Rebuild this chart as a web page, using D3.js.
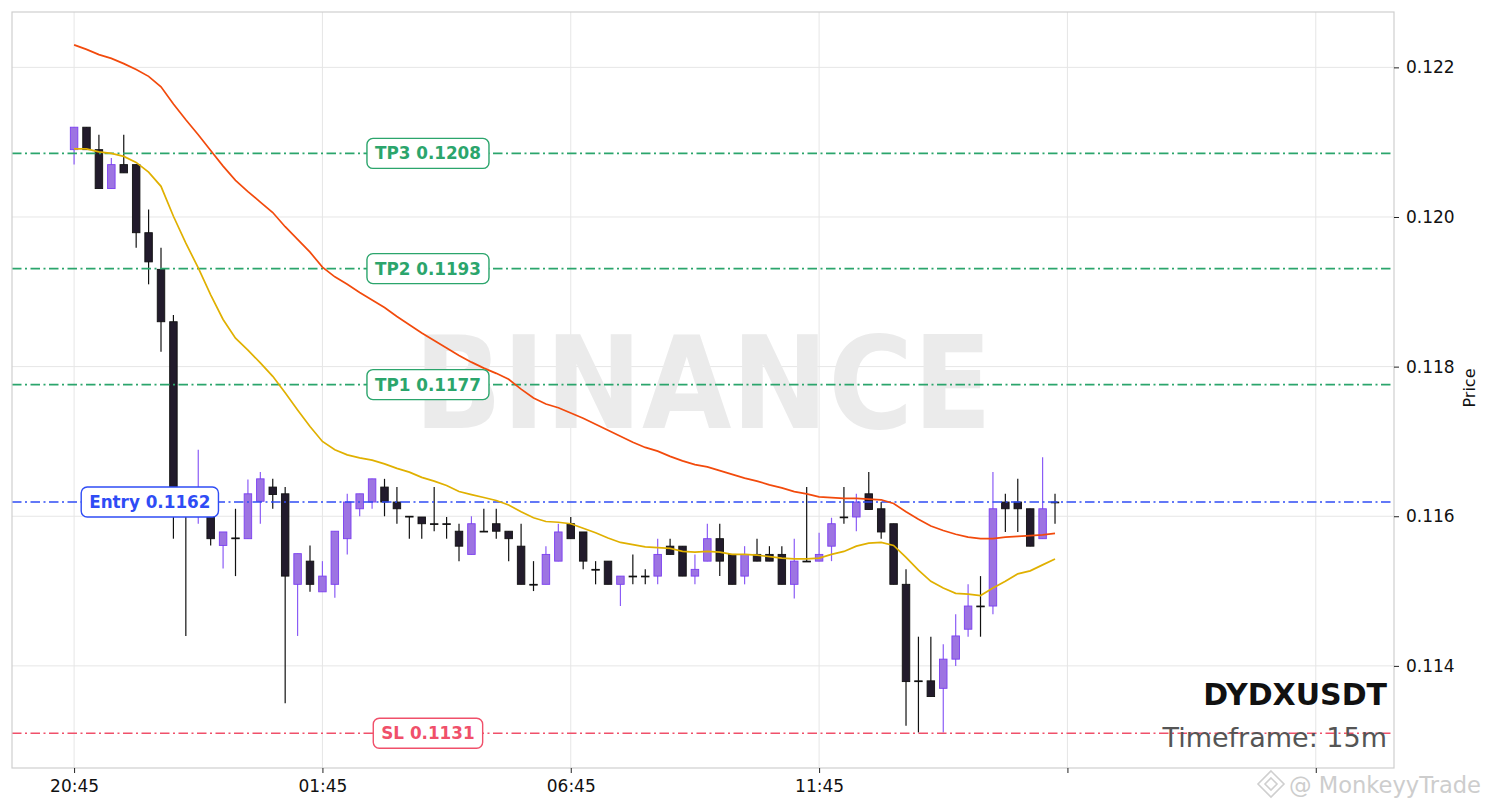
<!DOCTYPE html>
<html>
<head>
    <script src="https://d3js.org/d3.v7.min.js"></script>
    <style>
        body { margin: 0; background: #fff; }
        text { font-family: "DejaVu Sans", sans-serif; }
    </style>
</head>
<body>
    <svg width="1490" height="808"></svg>
    <script>
        // 15m candles starting 20:45
        var opens  = [0.12090,0.12120,0.12090,0.12038,0.12070,0.12070,0.11979,0.11930,0.11860,0.11620,
                      0.11605,0.11620,0.11561,0.11571,0.11570,0.11620,0.11639,0.11630,0.11509,0.11540,
                      0.11499,0.11509,0.11570,0.11610,0.11619,0.11639,0.11619,0.11600,0.11599,0.11590,
                      0.11590,0.11580,0.11549,0.11580,0.11590,0.11580,0.11560,0.11509,0.11509,0.11540,
                      0.11590,0.11579,0.11529,0.11540,0.11509,0.11520,0.11520,0.11520,0.11560,0.11560,
                      0.11520,0.11540,0.11570,0.11549,0.11520,0.11549,0.11549,0.11549,0.11509,0.11540,
                      0.11540,0.11560,0.11599,0.11599,0.11630,0.11610,0.11590,0.11509,0.11380,0.11380,
                      0.11370,0.11409,0.11449,0.11480,0.11480,0.11619,0.11619,0.11610,0.11570,0.11619];
        var highs  = [0.12120,0.12120,0.12110,0.12079,0.12110,0.12070,0.12010,0.11959,0.11869,0.11630,
                      0.11689,0.11630,0.11579,0.11610,0.11649,0.11659,0.11650,0.11639,0.11550,0.11561,
                      0.11540,0.11580,0.11630,0.11630,0.11650,0.11650,0.11639,0.11600,0.11599,0.11639,
                      0.11599,0.11590,0.11600,0.11610,0.11610,0.11580,0.11590,0.11540,0.11560,0.11590,
                      0.11599,0.11579,0.11540,0.11540,0.11520,0.11549,0.11529,0.11570,0.11570,0.11560,
                      0.11549,0.11590,0.11590,0.11549,0.11560,0.11570,0.11560,0.11560,0.11570,0.11639,
                      0.11578,0.11598,0.11639,0.11630,0.11659,0.11619,0.11590,0.11529,0.11439,0.11439,
                      0.11429,0.11469,0.11509,0.11520,0.11659,0.11630,0.11650,0.11610,0.11679,0.11630];
        var lows   = [0.12070,0.12090,0.12038,0.12038,0.12059,0.11959,0.11910,0.11820,0.11570,0.11440,
                      0.11590,0.11561,0.11530,0.11520,0.11570,0.11590,0.11610,0.11350,0.11440,0.11499,
                      0.11499,0.11491,0.11549,0.11600,0.11610,0.11600,0.11590,0.11570,0.11570,0.11580,
                      0.11570,0.11540,0.11549,0.11580,0.11570,0.11540,0.11509,0.11500,0.11509,0.11540,
                      0.11570,0.11529,0.11509,0.11509,0.11480,0.11509,0.11509,0.11509,0.11549,0.11520,
                      0.11509,0.11540,0.11520,0.11509,0.11509,0.11540,0.11540,0.11509,0.11490,0.11540,
                      0.11540,0.11540,0.11590,0.11580,0.11609,0.11570,0.11509,0.11320,0.11311,0.11359,
                      0.11311,0.11400,0.11439,0.11439,0.11469,0.11579,0.11579,0.11560,0.11570,0.11590];
        var closes = [0.12120,0.12090,0.12038,0.12070,0.12059,0.11979,0.11940,0.11860,0.11620,0.11605,
                      0.11625,0.11570,0.11579,0.11570,0.11630,0.11650,0.11629,0.11520,0.11550,0.11509,
                      0.11520,0.11580,0.11619,0.11630,0.11650,0.11619,0.11610,0.11599,0.11590,0.11590,
                      0.11590,0.11560,0.11590,0.11580,0.11580,0.11570,0.11509,0.11509,0.11549,0.11579,
                      0.11570,0.11540,0.11529,0.11509,0.11520,0.11520,0.11520,0.11549,0.11549,0.11520,
                      0.11529,0.11570,0.11540,0.11509,0.11549,0.11540,0.11540,0.11509,0.11540,0.11540,
                      0.11549,0.11590,0.11599,0.11619,0.11609,0.11579,0.11509,0.11379,0.11380,0.11359,
                      0.11409,0.11440,0.11480,0.11480,0.11610,0.11610,0.11610,0.11560,0.11610,0.11619];

        // moving averages
        var emaSlow = [0.12230,0.12224,0.12217,0.12212,0.12205,0.12197,0.12188,0.12174,0.12151,0.12130,
                       0.12110,0.12089,0.12068,0.12049,0.12034,0.12020,0.12006,0.11987,0.11970,0.11953,
                       0.11933,0.11920,0.11910,0.11899,0.11889,0.11879,0.11867,0.11856,0.11845,0.11835,
                       0.11825,0.11815,0.11806,0.11798,0.11791,0.11783,0.11770,0.11758,0.11750,0.11745,
                       0.11738,0.11731,0.11723,0.11715,0.11707,0.11699,0.11692,0.11687,0.11680,0.11674,
                       0.11669,0.11666,0.11661,0.11656,0.11651,0.11647,0.11642,0.11638,0.11633,0.11630,
                       0.11626,0.11625,0.11624,0.11624,0.11623,0.11622,0.11617,0.11606,0.11596,0.11587,
                       0.11581,0.11576,0.11572,0.11570,0.11570,0.11572,0.11573,0.11574,0.11575,0.11577];
        var emaFast = [0.12091,0.12091,0.12087,0.12085,0.12081,0.12073,0.12060,0.12041,0.12001,0.11965,
                       0.11932,0.11896,0.11863,0.11838,0.11822,0.11805,0.11787,0.11765,0.11742,0.11720,
                       0.11700,0.11689,0.11682,0.11678,0.11675,0.11670,0.11664,0.11659,0.11652,0.11647,
                       0.11641,0.11633,0.11629,0.11625,0.11621,0.11615,0.11606,0.11598,0.11593,0.11592,
                       0.11590,0.11584,0.11578,0.11571,0.11565,0.11562,0.11559,0.11558,0.11557,0.11553,
                       0.11552,0.11553,0.11552,0.11549,0.11549,0.11548,0.11546,0.11544,0.11543,0.11543,
                       0.11544,0.11549,0.11553,0.11560,0.11564,0.11565,0.11561,0.11545,0.11528,0.11513,
                       0.11504,0.11497,0.11496,0.11494,0.11504,0.11513,0.11523,0.11527,0.11535,0.11543];

        var levelNames  = ["TP3", "TP2", "TP1", "Entry", "SL"];
        var levelValues = [0.12085, 0.11931, 0.11776, 0.11619, 0.11310];
        var levelLabels = ["0.1208", "0.1193", "0.1177", "0.1162", "0.1131"];
        var levelColors = ["#2ba56c", "#2ba56c", "#2ba56c", "#2f4cf5", "#f0506a"];
        var labelIdx    = [28.5, 28.5, 28.5, 6.1, 28.5];

        var xTicks = [0, 20, 40, 60, 80, 100];
        var xTickLabels = ["20:45", "01:45", "06:45", "11:45", "", ""];
        var yTicks = [0.114, 0.116, 0.118, 0.120, 0.122];

        var svg = d3.select("svg"),
            plotL = 12, plotR = 1394, plotT = 12, plotB = 768;

        var x = d3.scaleLinear().domain([-5, 106.3]).range([plotL, plotR]);
        var y = d3.scaleLinear().domain([0.112635, 0.12274]).range([plotB, plotT]);

        svg.append("rect").attr("width", 1490).attr("height", 808).attr("fill", "#fff");

        // grid
        svg.append("g").selectAll("line").data(yTicks).enter().append("line")
            .attr("x1", plotL).attr("x2", plotR)
            .attr("y1", function(d) { return y(d); }).attr("y2", function(d) { return y(d); })
            .attr("stroke", "#e6e6e6").attr("stroke-width", 1);
        svg.append("g").selectAll("line").data(xTicks).enter().append("line")
            .attr("y1", plotT).attr("y2", plotB)
            .attr("x1", function(d) { return x(d); }).attr("x2", function(d) { return x(d); })
            .attr("stroke", "#e6e6e6").attr("stroke-width", 1);

        // watermark
        svg.append("text").attr("x", 703).attr("y", 428).attr("text-anchor", "middle")
            .attr("font-size", 128).attr("font-weight", "bold")
            .attr("textLength", 578).attr("lengthAdjust", "spacingAndGlyphs")
            .attr("fill", "#ebebeb").text("BINANCE");

        // candles
        var idx = d3.range(opens.length);
        var bw = 7.5;
        var isUp = function(i) { return closes[i] > opens[i]; };
        var c = svg.append("g");
        c.selectAll(".wick").data(idx).enter().append("line")
            .attr("x1", function(i) { return x(i); }).attr("x2", function(i) { return x(i); })
            .attr("y1", function(i) { return y(highs[i]); }).attr("y2", function(i) { return y(lows[i]); })
            .attr("stroke", function(i) { return isUp(i) ? "#8b5cf6" : "#111"; })
            .attr("stroke-width", 1.2);
        c.selectAll(".body").data(idx).enter().append("rect")
            .attr("x", function(i) { return x(i) - bw / 2; })
            .attr("y", function(i) { return y(Math.max(opens[i], closes[i])); })
            .attr("width", bw)
            .attr("height", function(i) { return Math.max(0.8, Math.abs(y(opens[i]) - y(closes[i]))); })
            .attr("fill", function(i) { return isUp(i) ? "#9d74e2" : "#221b2c"; })
            .attr("stroke", function(i) { return isUp(i) ? "#7b3ff0" : "#111"; })
            .attr("stroke-width", 0.9);

        // level lines
        svg.append("g").selectAll("line").data(levelValues).enter().append("line")
            .attr("x1", plotL).attr("x2", plotR)
            .attr("y1", function(d) { return y(d); }).attr("y2", function(d) { return y(d); })
            .attr("stroke", function(d, i) { return levelColors[i]; })
            .attr("stroke-width", 1.6)
            .attr("stroke-dasharray", "9.5,3.5,2,3.5");

        // emas
        var line = d3.line().x(function(d, i) { return x(i); }).y(function(d) { return y(d); });
        svg.append("path").datum(emaFast).attr("d", line)
            .attr("fill", "none").attr("stroke", "#e0b000").attr("stroke-width", 1.7);
        svg.append("path").datum(emaSlow).attr("d", line)
            .attr("fill", "none").attr("stroke", "#f24a0c").attr("stroke-width", 1.7);

        // level labels
        levelValues.forEach(function(v, i) {
            var g = svg.append("g");
            var t = g.append("text").attr("x", x(labelIdx[i])).attr("y", y(v) + 6)
                .attr("text-anchor", "middle").attr("font-size", 16.8).attr("font-weight", "bold")
                .attr("fill", levelColors[i]).text(levelNames[i] + " " + levelLabels[i]);
            var w = t.node().getComputedTextLength() + 16;
            g.insert("rect", "text")
                .attr("x", x(labelIdx[i]) - w / 2).attr("y", y(v) - 15)
                .attr("width", w).attr("height", 30).attr("rx", 6)
                .attr("fill", "#fff").attr("stroke", levelColors[i]).attr("stroke-width", 1.4);
        });

        // frame
        svg.append("rect").attr("x", plotL).attr("y", plotT)
            .attr("width", plotR - plotL).attr("height", plotB - plotT)
            .attr("fill", "none").attr("stroke", "#cfcfcf").attr("stroke-width", 1.2);

        // axes
        var yAxis = svg.append("g").attr("transform", "translate(" + plotR + ",0)")
            .call(d3.axisRight(y).tickValues(yTicks).tickFormat(d3.format(".3f")).tickSize(5).tickPadding(7));
        var xAxis = svg.append("g").attr("transform", "translate(0," + plotB + ")")
            .call(d3.axisBottom(x).tickValues(xTicks)
                .tickFormat(function(d, i) { return xTickLabels[i]; }).tickSize(5).tickPadding(7));
        [yAxis, xAxis].forEach(function(a) {
            a.select(".domain").remove();
            a.selectAll("text").attr("font-size", 17).attr("fill", "#111")
                .attr("font-family", "DejaVu Sans");
            a.selectAll("line").attr("stroke", "#222");
        });

        svg.append("text").attr("transform", "translate(1475,388) rotate(-90)")
            .attr("text-anchor", "middle").attr("font-size", 16).attr("fill", "#111").text("Price");

        // symbol
        svg.append("text").attr("x", 1387).attr("y", 705).attr("text-anchor", "end")
            .attr("font-size", 30).attr("font-weight", "bold").attr("fill", "#111").text("DYDXUSDT");
        svg.append("text").attr("x", 1387).attr("y", 747).attr("text-anchor", "end")
            .attr("font-size", 27).attr("fill", "#555").text("Timeframe: 15m");

        // footer watermark
        var wm = svg.append("g").attr("fill", "none").attr("stroke", "#cfcfcf").attr("stroke-width", 1.6);
        wm.append("path").attr("d", "M1271,771 L1284,784 L1271,797 L1258,784 Z");
        wm.append("path").attr("d", "M1271,778 L1277,784 L1271,790 L1265,784 Z");
        svg.append("text").attr("x", 1289).attr("y", 793).attr("font-size", 23)
            .attr("textLength", 192).attr("lengthAdjust", "spacingAndGlyphs")
            .attr("fill", "#cdcdcd").text("@ MonkeyyTrade");
    </script>
</body>
</html>
